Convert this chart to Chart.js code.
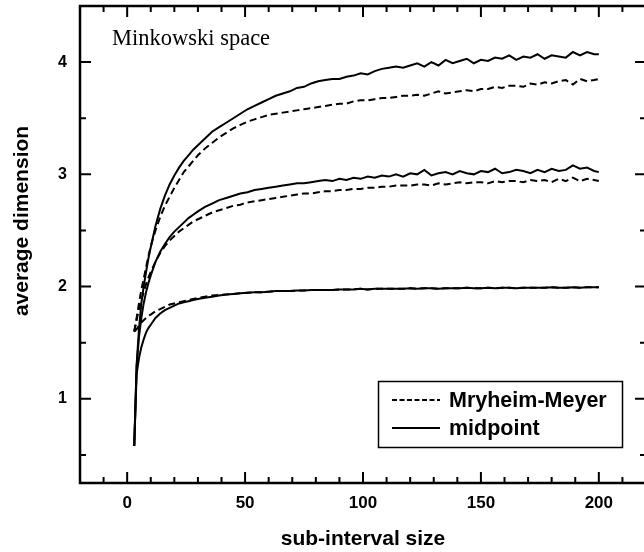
<!DOCTYPE html>
<html>
<head>
<meta charset="utf-8">
<script src="https://cdn.jsdelivr.net/npm/chart.js@4.4.1/dist/chart.umd.min.js"></script>
<style>
html,body{margin:0;padding:0;background:#fff;overflow:hidden;}
#boite{position:relative;width:660px;height:552px;}
</style>
</head>
<body>
<div id="boite"><canvas id="graphique"></canvas></div>
<script>
// Tailles des sous-intervalles (axe x)
const tailles = [3,4,5,6,7,8,9,10,
  12,14,16,18,20,22,24,26,28,30,
  33,36,39,42,45,48,51,54,57,60,
  63,66,69,72,75,78,81,84,87,90,
  93,96,99,102,105,108,111,114,117,120,
  123,126,129,132,135,138,141,144,147,150,
  153,156,159,162,165,168,171,174,177,180,
  183,186,189,192,195,198,200];

// Dimension 4 - midpoint (trait plein) et Myrheim-Meyer (pointillés)
const mid4 = [0.58,1.30,1.62,1.85,2.00,2.13,2.25,2.35,
  2.54,2.69,2.81,2.91,2.99,3.06,3.12,3.17,3.22,3.26,
  3.32,3.38,3.42,3.46,3.50,3.54,3.58,3.61,3.64,3.67,
  3.70,3.72,3.74,3.77,3.78,3.81,3.83,3.84,3.85,3.85,
  3.87,3.88,3.90,3.89,3.92,3.94,3.95,3.96,3.95,3.97,
  3.99,3.96,4.00,3.97,4.02,3.99,4.01,4.03,3.99,4.02,
  4.01,4.04,4.03,4.06,4.02,4.05,4.04,4.07,4.03,4.06,
  4.05,4.04,4.09,4.06,4.09,4.07,4.07];
const mm4 = [1.60,1.72,1.85,1.97,2.07,2.17,2.27,2.36,
  2.50,2.62,2.72,2.80,2.88,2.95,3.02,3.07,3.12,3.17,
  3.23,3.28,3.33,3.37,3.41,3.44,3.47,3.49,3.51,3.53,
  3.54,3.55,3.56,3.57,3.58,3.59,3.60,3.61,3.62,3.63,
  3.63,3.65,3.66,3.66,3.67,3.68,3.68,3.69,3.70,3.70,
  3.71,3.70,3.72,3.74,3.72,3.73,3.74,3.75,3.74,3.76,
  3.76,3.78,3.77,3.79,3.79,3.78,3.81,3.80,3.82,3.81,
  3.83,3.84,3.80,3.85,3.83,3.84,3.85];

// Dimension 3
const mid3 = [0.58,1.28,1.55,1.72,1.85,1.95,2.03,2.10,
  2.22,2.31,2.38,2.44,2.49,2.53,2.57,2.61,2.64,2.67,
  2.71,2.74,2.77,2.79,2.81,2.83,2.84,2.86,2.87,2.88,
  2.89,2.90,2.91,2.92,2.92,2.93,2.94,2.95,2.94,2.96,
  2.95,2.97,2.96,2.98,2.97,2.99,2.98,3.00,2.98,3.01,
  3.00,3.04,2.99,3.01,3.02,3.00,3.03,3.01,3.00,3.03,
  3.02,3.05,3.01,3.02,3.04,3.03,3.01,3.04,3.02,3.05,
  3.03,3.04,3.08,3.05,3.06,3.03,3.02];
const mm3 = [1.60,1.70,1.80,1.88,1.95,2.02,2.08,2.13,
  2.22,2.30,2.36,2.41,2.45,2.49,2.52,2.55,2.58,2.60,
  2.63,2.66,2.68,2.70,2.72,2.73,2.75,2.76,2.77,2.78,
  2.79,2.80,2.81,2.82,2.83,2.83,2.84,2.85,2.85,2.86,
  2.86,2.87,2.87,2.88,2.88,2.89,2.89,2.90,2.90,2.90,
  2.91,2.91,2.90,2.92,2.91,2.92,2.93,2.92,2.93,2.93,
  2.92,2.94,2.93,2.94,2.94,2.93,2.95,2.94,2.95,2.93,
  2.96,2.94,2.97,2.94,2.96,2.95,2.94];

// Dimension 2
const mid2 = [0.58,1.22,1.36,1.46,1.53,1.59,1.63,1.66,
  1.72,1.76,1.79,1.81,1.83,1.85,1.86,1.87,1.88,1.89,
  1.90,1.91,1.92,1.93,1.935,1.94,1.945,1.95,1.95,1.955,
  1.96,1.96,1.96,1.965,1.965,1.97,1.97,1.97,1.97,1.975,
  1.975,1.975,1.98,1.975,1.98,1.98,1.98,1.98,1.98,1.985,
  1.98,1.985,1.985,1.98,1.985,1.985,1.985,1.99,1.985,1.985,
  1.99,1.985,1.99,1.99,1.985,1.99,1.99,1.99,1.99,1.995,
  1.99,1.99,1.995,1.99,1.995,1.995,1.995];
const mm2 = [1.60,1.62,1.65,1.68,1.70,1.72,1.74,1.75,
  1.78,1.80,1.82,1.84,1.85,1.86,1.87,1.88,1.89,1.90,
  1.91,1.92,1.925,1.93,1.935,1.94,1.945,1.95,1.95,1.955,
  1.96,1.96,1.96,1.965,1.965,1.97,1.97,1.97,1.97,1.975,
  1.975,1.975,1.98,1.975,1.98,1.98,1.98,1.98,1.98,1.985,
  1.98,1.985,1.985,1.98,1.985,1.985,1.985,1.99,1.985,1.985,
  1.99,1.985,1.99,1.99,1.985,1.99,1.99,1.99,1.99,1.995,
  1.99,1.99,1.995,1.99,1.995,1.995,1.995];

// Graduations et légende
const etiquettesX = [0,50,100,150,200];
const etiquettesY = [1,2,3,4];
const legende = ["Mryheim-Meyer","midpoint"];

Chart.defaults.font.family = "'Liberation Sans', Arial, sans-serif";
Chart.defaults.color = "#000";

function serie(valeurs, pointille){
  return {
    data: tailles.map((t,i) => ({x:t, y:valeurs[i]})),
    borderColor: "#000",
    borderWidth: 2,
    borderDash: pointille ? [7,4] : [],
    pointRadius: 0,
    tension: 0,
    fill: false
  };
}

// Cadre, graduations intérieures, textes et légende encadrée
const cadre = {
  id: "cadre",
  afterDraw(chart){
    const {ctx, chartArea:{left,right,top,bottom}, scales:{x,y}} = chart;
    ctx.save();
    ctx.strokeStyle = "#000";
    ctx.fillStyle = "#000";
    ctx.setLineDash([]);
    ctx.lineWidth = 2.5;
    ctx.strokeRect(left, top, right-left, bottom-top);
    ctx.lineWidth = 2;
    ctx.beginPath();
    for (let v = -10; v <= 210; v += 10){
      const px = x.getPixelForValue(v);
      const l = v % 50 === 0 ? 11 : 6;
      ctx.moveTo(px, bottom); ctx.lineTo(px, bottom-l);
      ctx.moveTo(px, top); ctx.lineTo(px, top+l);
    }
    for (let v = 0.5; v <= 4; v += 0.5){
      const py = y.getPixelForValue(v);
      const l = Number.isInteger(v) ? 11 : 6;
      ctx.moveTo(left, py); ctx.lineTo(left+l, py);
      ctx.moveTo(right, py); ctx.lineTo(right-l, py);
    }
    ctx.stroke();

    // titre de l'axe y
    ctx.save();
    ctx.translate(22, 221);
    ctx.rotate(-Math.PI/2);
    ctx.font = "bold 21px 'Liberation Sans', Arial, sans-serif";
    ctx.textAlign = "center";
    ctx.textBaseline = "middle";
    ctx.fillText("average dimension", 0, 0);
    ctx.restore();

    // étiquette dans le graphique
    ctx.font = "22.5px 'Liberation Serif', 'Times New Roman', serif";
    ctx.textAlign = "left";
    ctx.textBaseline = "alphabetic";
    ctx.fillText("Minkowski space", 112, 45);

    // légende
    ctx.lineWidth = 1.5;
    ctx.strokeRect(378.5, 381.5, 244, 66);
    ctx.lineWidth = 2;
    ctx.font = "bold 21.5px 'Liberation Sans', Arial, sans-serif";
    ctx.textBaseline = "middle";
    legende.forEach((txt, i) => {
      const yy = 400 + i*28;
      ctx.setLineDash(i === 0 ? [5,2.5] : []);
      ctx.beginPath();
      ctx.moveTo(392, yy); ctx.lineTo(440, yy);
      ctx.stroke();
      ctx.fillText(txt, 449, yy+1);
    });
    ctx.restore();
  }
};

new Chart(document.querySelector("#graphique"), {
  type: "line",
  data: {
    datasets: [serie(mm4,true), serie(mid4,false), serie(mm3,true), serie(mid3,false), serie(mm2,true), serie(mid2,false)]
  },
  options: {
    responsive: true,
    maintainAspectRatio: false,
    animation: false,
    layout: {padding: {left:0, top:6, right:14, bottom:0}},
    plugins: {legend: {display:false}, tooltip: {enabled:false}},
    scales: {
      x: {
        type: "linear",
        min: -20, max: 220,
        afterBuildTicks: s => { s.ticks = etiquettesX.map(v => ({value:v})); },
        afterFit: s => { s.height = 69; s.paddingLeft = 0; s.paddingRight = 0; },
        grid: {display:false, drawTicks:false, tickLength:0},
        border: {display:false},
        ticks: {autoSkip:false, maxRotation:0, padding:10, font:{size:17, weight:"bold"}},
        title: {display:true, text:"sub-interval size", padding:{top:0, bottom:0}, font:{size:21, weight:"bold"}}
      },
      y: {
        type: "linear",
        min: 0.25, max: 4.5,
        afterBuildTicks: s => { s.ticks = etiquettesY.map(v => ({value:v})); },
        afterFit: s => { s.width = 80; s.paddingTop = 0; s.paddingBottom = 0; },
        grid: {display:false, drawTicks:false, tickLength:0},
        border: {display:false},
        ticks: {padding:13, font:{size:16, weight:"bold"}}
      }
    }
  },
  plugins: [cadre]
});
</script>
</body>
</html>
